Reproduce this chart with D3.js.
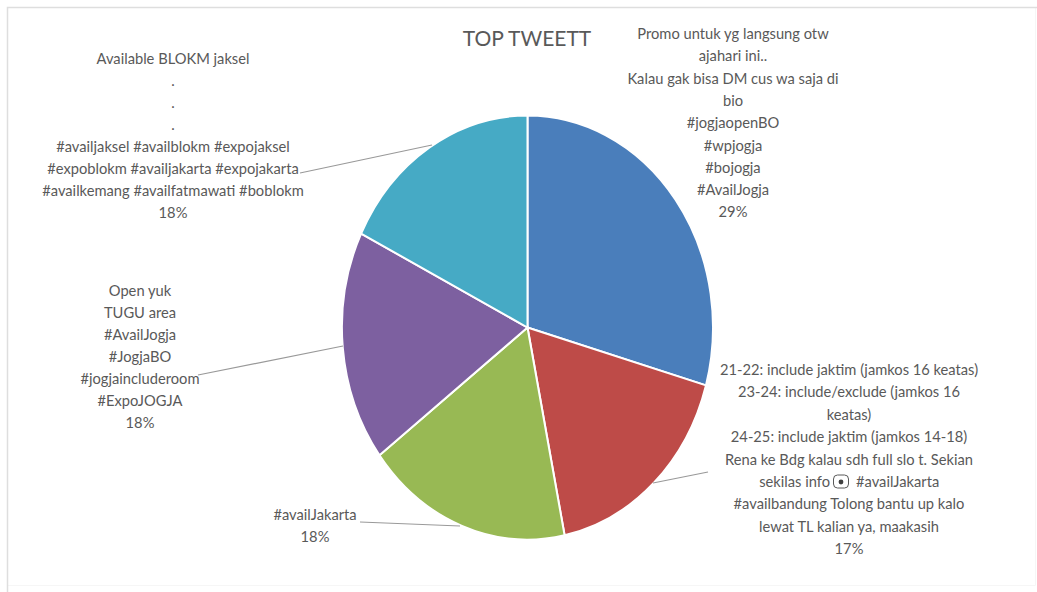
<!DOCTYPE html>
<html>
<head>
<meta charset="utf-8">
<script src="https://cdn.jsdelivr.net/npm/d3@7"></script>
<style>
  html, body { margin: 0; padding: 0; background: #fff; }
  svg { display: block; }
  text { font-family: Lato, "Open Sans", sans-serif; fill: #595959; }
</style>
</head>
<body>
<svg id="chart" width="1037" height="592"></svg>
<script>
// Share of each top tweet, in drawing order, clockwise from twelve o'clock.
// Slices use the unrounded share; the labels print it to the nearest whole percent.
const shares = [29.4, 17.4, 17.9, 17.6, 17.7];
const sliceColors = ["#4a7ebb", "#be4b48", "#98b954", "#7d60a0", "#46aac5"];

const tweetBlue = ["Promo untuk yg langsung otw", "ajahari ini..", "Kalau gak bisa DM cus wa saja di", "bio", "#jogjaopenBO", "#wpjogja", "#bojogja", "#AvailJogja"];
const tweetRed = ["21-22: include jaktim (jamkos 16 keatas)", "23-24: include/exclude (jamkos 16", "keatas)", "24-25: include jaktim (jamkos 14-18)", "Rena ke Bdg kalau sdh full slo t. Sekian", "sekilas info|#availJakarta", "#availbandung Tolong bantu up kalo", "lewat TL kalian ya, maakasih"];
const tweetGreen = ["#availJakarta"];
const tweetPurple = ["Open yuk", "TUGU area", "#AvailJogja", "#JogjaBO", "#jogjaincluderoom", "#ExpoJOGJA"];
const tweetTeal = ["Available BLOKM jaksel", ".", ".", ".", "#availjaksel #availblokm #expojaksel", "#expoblokm #availjakarta #expojakarta", "#availkemang #availfatmawati #boblokm"];
const tweets = [tweetBlue, tweetRed, tweetGreen, tweetPurple, tweetTeal];

const svg = d3.select("#chart");
const percent = d3.format(".0f");

// Chart frame: strong on the top and left edges, barely there on the others
svg.append("path").attr("d", "M1035.5,7.5V585.5H7.5").attr("fill", "none").attr("stroke", "#f6f6f6");
svg.append("path").attr("d", "M7.5,592V7.5H1037").attr("fill", "none").attr("stroke", "#dedede").attr("stroke-width", 1.5);

svg.append("text").attr("x", 527).attr("y", 46).attr("text-anchor", "middle")
  .attr("font-size", 21).text("TOP TWEETT");

// The pie is stretched vertically, so it is drawn as a unit circle and scaled per axis
const cx = 527.5, cy = 327.5, rx = 185.5, ry = 212;
const arcs = d3.pie().sort(null).value(d => d)(shares);
const arc = d3.arc().innerRadius(0).outerRadius(1);
svg.append("g").attr("transform", `translate(${cx},${cy}) scale(${rx},${ry})`)
  .selectAll("path").data(arcs).join("path")
  .attr("d", arc).attr("fill", (d, i) => sliceColors[i])
  .attr("stroke", "#fff").attr("stroke-width", 2).attr("vector-effect", "non-scaling-stroke");

// Leader lines run from the label block to the rim of the slice
const leaders = [
  [[653, 483], [708, 472]],
  [[360, 522], [460, 526]],
  [[198, 375], [343, 346]],
  [[300, 173], [432, 145]]
];
svg.append("g").selectAll("line").data(leaders).join("line")
  .attr("x1", d => d[0][0]).attr("y1", d => d[0][1])
  .attr("x2", d => d[1][0]).attr("y2", d => d[1][1])
  .attr("stroke", "#999999").attr("stroke-width", 1.2);

// Label block placement per slice: centre x, first baseline, line step
const blocks = [
  { x: 733, y: 39, step: 22.3 },
  { x: 849, y: 375, step: 22.4 },
  { x: 315, y: 520, step: 22 },
  { x: 140, y: 296, step: 22 },
  { x: 173, y: 64, step: 22 }
];
const fontSize = 14.7;

tweets.forEach((lines, i) => {
  const b = blocks[i];
  const g = svg.append("g").attr("font-size", fontSize).attr("text-anchor", "middle");
  const rows = [...lines, `${percent(shares[i])}%`];
  rows.forEach((row, k) => {
    const y = b.y + k * b.step;
    if (row.includes("|")) {
      // This row carries a small inline glyph between its two halves
      const [left, right] = row.split("|");
      const gx = b.x - 8;
      g.append("text").attr("x", gx - 11).attr("y", y).attr("text-anchor", "end").text(left);
      g.append("text").attr("x", gx + 15).attr("y", y).attr("text-anchor", "start").text(right);
      g.append("rect").attr("x", gx - 7.5).attr("y", y - 12).attr("width", 15).attr("height", 13).attr("rx", 4)
        .attr("fill", "#fff").attr("stroke", "#595959");
      g.append("circle").attr("cx", gx).attr("cy", y - 5).attr("r", 2.4).attr("fill", "#404040");
    } else {
      g.append("text").attr("x", b.x).attr("y", y).text(row);
    }
  });
});
</script>
</body>
</html>
